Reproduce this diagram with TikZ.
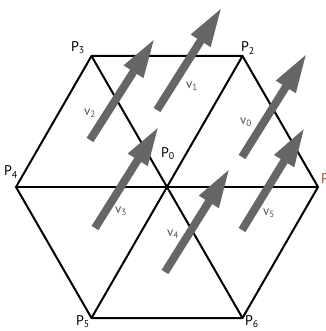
\documentclass[tikz,border=0pt]{standalone}
\usepackage{fontspec}
\setmainfont{PT Sans}
\usetikzlibrary{arrows.meta}
\definecolor{arrgray}{RGB}{102,102,102}
\definecolor{lblgray}{RGB}{80,80,80}
\definecolor{pbrown}{RGB}{150,80,50}
\tikzset{
  hexline/.style={line width=2pt, black, line join=miter},
  vecarrow/.style={line width=8pt, arrgray, -{Triangle[length=40pt,width=21pt]}},
  plabel/.style={font=\fontsize{14}{16}\selectfont, text=black, inner sep=0pt},
  vlabel/.style={font=\fontsize{13}{15}\selectfont, text=lblgray, inner sep=0pt}
}
\begin{document}
\begin{tikzpicture}[x=1pt,y=-1pt]
\useasboundingbox (0,0) rectangle (325,331);
% hexagon vertices
\coordinate (P0) at (167,187);
\coordinate (P1) at (318,187);
\coordinate (P2) at (242.5,56);
\coordinate (P3) at (91.5,56);
\coordinate (P4) at (16,187);
\coordinate (P5) at (91.5,318);
\coordinate (P6) at (242.5,318);
\draw[hexline] (P1) -- (P2) -- (P3) -- (P4) -- (P5) -- (P6) -- cycle;
\draw[hexline] (P1) -- (P4);
\draw[hexline] (P2) -- (P5);
\draw[hexline] (P3) -- (P6);
% arrows
\coordinate (a0s) at (242,157); \coordinate (a0e) at (307,53);
\coordinate (a1s) at (157,110); \coordinate (a1e) at (222,7);
\coordinate (a2s) at (90,140);  \coordinate (a2e) at (155,38);
\coordinate (a3s) at (95,228);  \coordinate (a3e) at (159,126);
\coordinate (a4s) at (165,272); \coordinate (a4e) at (230,168);
\coordinate (a5s) at (242,230); \coordinate (a5e) at (305,127);
\draw[vecarrow] (a0s) -- (a0e);
\draw[vecarrow] (a1s) -- (a1e);
\draw[vecarrow] (a2s) -- (a2e);
\draw[vecarrow] (a3s) -- (a3e);
\draw[vecarrow] (a4s) -- (a4e);
\draw[vecarrow] (a5s) -- (a5e);
% labels
\node[plabel] (l0) at (168,154) {P\textsubscript{0}};
\node[plabel, text=pbrown, anchor=west] (l1) at (321,180) {P\textsubscript{1}};
\node[plabel] (l2) at (248,48) {P\textsubscript{2}};
\node[plabel] (l3) at (78,48) {P\textsubscript{3}};
\node[plabel] (l4) at (11,172) {P\textsubscript{4}};
\node[plabel] (l5) at (83,322) {P\textsubscript{5}};
\node[plabel] (l6) at (252,322) {P\textsubscript{6}};
\node[vlabel] (m0) at (246,122) {v\textsubscript{0}};
\node[vlabel] (m1) at (192,86) {v\textsubscript{1}};
\node[vlabel] (m2) at (90,113) {v\textsubscript{2}};
\node[vlabel] (m3) at (121,211) {v\textsubscript{3}};
\node[vlabel] (m4) at (173,234) {v\textsubscript{4}};
\node[vlabel] (m5) at (269,213) {v\textsubscript{5}};
\end{tikzpicture}
\end{document}
